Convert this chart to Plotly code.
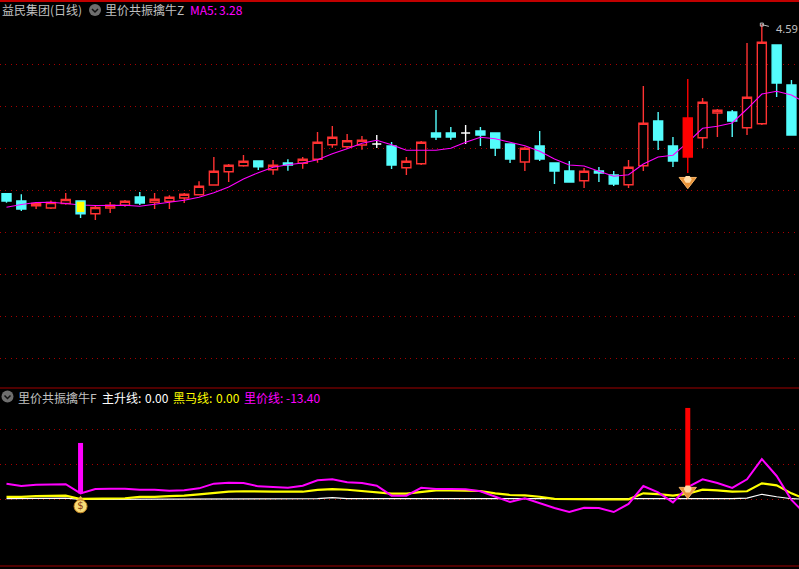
import plotly.graph_objects as go

W, H = 799, 569
BG = "#000000"
UP = "#FF3232"
DOWN = "#54FCFC"
GRID = "#A80000"
BORDER = "#A00000"
GRAY = "#C0C0C0"
MAG = "#FF00FF"
YEL = "#FFFF00"
FONT = "Noto Sans CJK SC"

# ---- daily candles, index = trading day ----
opens = [1.77,1.65,1.572,1.533,1.608,1.65,1.438,1.533,1.578,1.717,1.628,1.645,1.70,1.755,1.917,2.138,2.238,2.317,2.172,2.283,2.278,2.345,2.588,2.555,2.583,2.60,2.567,2.205,2.272,2.783,2.783,2.783,2.817,2.783,2.60,2.30,2.567,2.283,2.15,1.988,2.15,2.083,1.922,2.238,2.983,2.567,2.383,2.705,3.117,3.133,2.872,2.938,4.25,3.583]
highs = [1.77,1.762,1.633,1.658,1.783,1.65,1.583,1.633,1.667,1.80,1.783,1.745,1.783,1.978,2.383,2.267,2.417,2.317,2.333,2.345,2.383,2.80,2.90,2.767,2.733,2.75,2.633,2.383,2.65,3.167,2.883,2.917,2.883,2.783,2.60,2.555,2.817,2.283,2.317,2.20,2.217,2.15,2.333,3.567,3.133,2.717,3.683,3.367,3.183,3.167,4.283,4.59,4.25,3.667]
lows = [1.62,1.483,1.517,1.517,1.588,1.367,1.333,1.45,1.555,1.583,1.517,1.517,1.617,1.755,1.905,1.967,2.222,2.167,2.088,2.155,2.188,2.288,2.538,2.533,2.505,2.533,2.183,2.083,2.25,2.667,2.667,2.60,2.567,2.40,2.283,2.15,2.317,1.933,1.967,1.867,1.967,1.90,1.867,2.15,2.50,2.217,2.117,2.533,2.717,2.717,2.75,2.917,3.383,2.75]
closes = [1.65,1.517,1.608,1.625,1.675,1.438,1.542,1.578,1.645,1.617,1.678,1.712,1.762,1.895,2.145,2.245,2.312,2.222,2.245,2.25,2.345,2.628,2.712,2.655,2.662,2.60,2.25,2.312,2.628,2.717,2.717,2.783,2.75,2.533,2.35,2.528,2.35,2.15,1.967,2.145,2.117,1.933,2.212,2.945,2.667,2.317,3.033,3.295,3.162,2.983,3.378,4.295,3.617,2.75]
ma5 = [1.545,1.592,1.625,1.628,1.608,1.583,1.575,1.578,1.578,1.562,1.595,1.628,1.662,1.712,1.788,1.883,2.017,2.122,2.212,2.255,2.283,2.338,2.438,2.522,2.612,2.662,2.588,2.495,2.495,2.495,2.528,2.628,2.712,2.688,2.628,2.572,2.478,2.35,2.25,2.233,2.145,2.062,2.088,2.267,2.383,2.412,2.628,2.862,2.895,2.95,3.183,3.433,3.478,3.417,3.28]

# ---- lower indicator ----
main_rise = [0.5,0.5,1.0,1.0,1.0,0,0,0,0,0,0,0,0,0,0.6,0.6,0.6,0.6,0.6,0.6,0.6,0.6,1.5,0.6,0.6,0.6,0,0,0,0,0,0,0,0,0,0,0,0,0,0,0,0,0,0,0,0,0,0.5,0.5,0.5,1.0,4.3,2.2,0.5,0]
dark_horse = [2.0,2.0,2.8,3.1,3.1,0.3,0.3,0.3,0.9,2.0,2.0,2.8,3.1,4.3,5.7,6.5,6.9,6.5,6.5,6.5,6.5,8.0,8.8,8.2,7.1,6.5,4.8,4.8,6.5,7.7,7.7,7.4,7.1,5.1,3.7,3.4,2.2,0.3,0,0,0,0,0,5.1,4.5,3.1,4.8,8.2,7.7,6.5,6.9,13.7,12.0,5.1,0]
vol_price = [13.4,11.4,12.5,12.9,12.9,5.1,8.8,9.1,9.1,8.2,8.2,7.4,7.7,9.4,13.4,14.2,14.0,11.1,10.8,9.9,11.7,16.3,17.1,14.6,14.0,11.7,3.1,3.1,9.9,8.8,8.8,8.6,6.9,2.0,-2.3,0.9,-3.2,-7.5,-10.9,-7.2,-7.5,-10.9,-4.0,11.4,6.0,-2.6,10.5,17.1,14.0,9.7,17.1,34.5,20.0,-0.6,-13.4]

doji_idx = [25, 31]
yellow_idx = [5]
red_idx = [46]
signal_bag_idx = 5
signal_gem_idx = 46
stem_bag = [5.1, 48.3]
stem_gem = [9.7, 78.3]
high_label = "4.59"

days = list(range(len(opens)))
days_ext = list(range(len(ma5)))


def px_x(p):
    return p / W


def px_y(p):
    return 1 - p / H


x_range = [-0.439, 53.51]
y1_range = [5 - 388 / 60, 5 - 1.5 / 60]
y2_range = [(499.3 - 566) * 6 / 7, (499.3 - 389) * 6 / 7]


def pick(idx):
    return dict(
        x=[days[i] for i in idx],
        open=[opens[i] for i in idx],
        high=[highs[i] for i in idx],
        low=[lows[i] for i in idx],
        close=[closes[i] for i in idx],
    )


special = set(doji_idx + yellow_idx + red_idx)
normal = [i for i in days if i not in special]

fig = go.Figure()


def candle(idx, up_line, up_fill, dn_line, dn_fill, xa="x", ya="y"):
    fig.add_trace(go.Candlestick(
        **pick(idx), xaxis=xa, yaxis=ya, whiskerwidth=0, hoverinfo="skip", showlegend=False,
        increasing=dict(line=dict(color=up_line, width=1.4), fillcolor=up_fill),
        decreasing=dict(line=dict(color=dn_line, width=1.4), fillcolor=dn_fill),
    ))


candle(normal, UP, BG, DOWN, DOWN)
candle(doji_idx, "#FFFFFF", "#FFFFFF", "#FFFFFF", "#FFFFFF")

fig.add_trace(go.Scatter(x=days_ext, y=ma5, mode="lines", line=dict(color=MAG, width=1.1),
                         hoverinfo="skip", showlegend=False, xaxis="x", yaxis="y"))

# signal candles sit above the MA line; a see-through pair keeps the bar width
NONE = "rgba(0,0,0,0)"
candle(days[:2], NONE, NONE, NONE, NONE, "x3", "y3")
candle(yellow_idx, YEL, YEL, DOWN, YEL, "x3", "y3")
candle(red_idx, "#FF0000", "#FF0000", "#FF0000", "#FF0000", "x3", "y3")


def gem(xa, ya, yc, ytop):
    fig.add_trace(go.Scatter(x=[signal_gem_idx], y=[yc], mode="markers", xaxis=xa, yaxis=ya,
                             marker=dict(symbol="triangle-down", size=15, color="#E8943A",
                                         line=dict(color="#F6B468", width=1)),
                             hoverinfo="skip", showlegend=False))
    fig.add_trace(go.Scatter(x=[signal_gem_idx], y=[ytop], mode="markers", xaxis=xa, yaxis=ya,
                             marker=dict(symbol="hexagon2", size=8, color="#FFDCA8",
                                         line=dict(width=0)),
                             hoverinfo="skip", showlegend=False))


gem("x", "y", 1.98, 2.01)

# high-water flag
fig.add_trace(go.Scatter(x=[51], y=[4.59], mode="markers", xaxis="x", yaxis="y",
                         marker=dict(symbol="square-open", size=3, color=GRAY, line=dict(width=1, color=GRAY)),
                         hoverinfo="skip", showlegend=False))

# lower panel
for s, c, w in [(main_rise, "#FFFFFF", 1.2), (dark_horse, YEL, 2.2), (vol_price, MAG, 2)]:
    fig.add_trace(go.Scatter(x=days_ext, y=s, mode="lines", line=dict(color=c, width=w),
                             hoverinfo="skip", showlegend=False, xaxis="x2", yaxis="y2"))
fig.add_trace(go.Scatter(x=[signal_bag_idx] * 2, y=stem_bag, mode="lines", line=dict(color=MAG, width=5),
                         hoverinfo="skip", showlegend=False, xaxis="x2", yaxis="y2"))
fig.add_trace(go.Scatter(x=[signal_gem_idx] * 2, y=stem_gem, mode="lines", line=dict(color="#FF0000", width=5),
                         hoverinfo="skip", showlegend=False, xaxis="x2", yaxis="y2"))
gem("x2", "y2", 7.0, 8.8)
# money bag
fig.add_trace(go.Scatter(x=[signal_bag_idx], y=[0.0], mode="markers", xaxis="x2", yaxis="y2",
                         marker=dict(symbol="triangle-up", size=7, color="#E8B040"),
                         hoverinfo="skip", showlegend=False))
fig.add_trace(go.Scatter(x=[signal_bag_idx], y=[-6.0], mode="markers+text", text=["$"], textposition="middle center",
                         textfont=dict(color="#8A3A10", size=10, family="DejaVu Sans"),
                         xaxis="x2", yaxis="y2",
                         marker=dict(symbol="circle", size=13, color="#F6DC78", line=dict(color="#C08020", width=1)),
                         hoverinfo="skip", showlegend=False))


def label(x, y, text, color, size=12):
    return dict(xref="paper", yref="paper", x=px_x(x), y=px_y(y), text=text, showarrow=False,
                xanchor="left", yanchor="middle", font=dict(family=FONT, size=size, color=color),
                borderpad=0, borderwidth=0)


annotations = [
    label(2, 10, "益民集团(日线)", GRAY),
    label(105, 10, "里价共振擒牛Z", GRAY),
    label(190, 10, "MA5:", MAG),
    label(219, 10, "3.28", MAG),
    label(18, 397, "里价共振擒牛F", GRAY),
    label(102, 397, "主升线:", "#FFFFFF"),
    label(145, 397, "0.00", "#FFFFFF"),
    label(173, 397, "黑马线:", YEL),
    label(216, 397, "0.00", YEL),
    label(244, 397, "里价线:", MAG),
    label(286, 397, "-13.40", MAG),
    dict(xref="x", yref="y", x=51, y=4.59, ax=12, ay=3, axref="pixel", ayref="pixel", text=" ",
         showarrow=True, arrowhead=0, arrowwidth=1, arrowcolor=GRAY, standoff=0, startstandoff=2),
    dict(xref="x", yref="y", x=51, y=4.59, xshift=12, yshift=-4, text=high_label, showarrow=False,
         xanchor="left", yanchor="middle", font=dict(family="Noto Sans", size=11, color=GRAY)),
]

shapes = []
# panel borders
for yy, lw in [(1, 2), (388, 1), (566, 1)]:
    shapes.append(dict(type="line", xref="paper", yref="paper", x0=0, x1=1, y0=px_y(yy), y1=px_y(yy),
                       line=dict(color=BORDER if yy != 1 else "#C00000", width=lw), layer="above"))
# collapse icons
for cx, cy in [(95, 10), (7.5, 396.5)]:
    shapes.append(dict(type="circle", xref="paper", yref="paper", x0=px_x(cx - 6), x1=px_x(cx + 6),
                       y0=px_y(cy + 6), y1=px_y(cy - 6), fillcolor="#6E6E6E", line=dict(width=0)))
    shapes.append(dict(type="path", xref="paper", yref="paper",
                       path=f"M {px_x(cx-3)} {px_y(cy-1)} L {px_x(cx)} {px_y(cy+2)} L {px_x(cx+3)} {px_y(cy-1)}",
                       line=dict(color="#111111", width=1.5)))

hidden_x = dict(range=x_range, type="linear", visible=False, fixedrange=True, rangeslider=dict(visible=False))

fig.update_layout(
    width=W, height=H, autosize=False,
    margin=dict(l=0, r=0, t=0, b=0, pad=0),
    paper_bgcolor=BG, plot_bgcolor=BG,
    showlegend=False, boxgap=0.13,
    xaxis=dict(**hidden_x, domain=[0, 1], anchor="y"),
    yaxis=dict(range=y1_range, domain=[px_y(388), px_y(1.5)], anchor="x", showticklabels=False, ticks="",
               showline=False, zeroline=False, fixedrange=True, showgrid=True,
               tickvals=[3.925, 3.225, 2.525, 1.825, 1.125, 0.425, -0.275, -0.975],
               gridcolor=GRID, gridwidth=1, griddash="1px,4.4px"),
    xaxis2=dict(**hidden_x, domain=[0, 1], anchor="y2"),
    yaxis2=dict(range=y2_range, domain=[px_y(566), px_y(389)], anchor="x2", showticklabels=False, ticks="",
                showline=False, zeroline=False, fixedrange=True, showgrid=True,
                tickvals=[0, 30, 60],
                gridcolor=GRID, gridwidth=1, griddash="1px,4.4px"),
    xaxis3=dict(**hidden_x, overlaying="x", anchor="y3"),
    yaxis3=dict(range=y1_range, overlaying="y", visible=False, fixedrange=True, anchor="x3"),
    annotations=annotations,
    shapes=shapes,
)

fig.write_html("out.html", config=dict(displayModeBar=False),
               post_script="document.body.style.margin='0';document.body.style.background='#000';")
